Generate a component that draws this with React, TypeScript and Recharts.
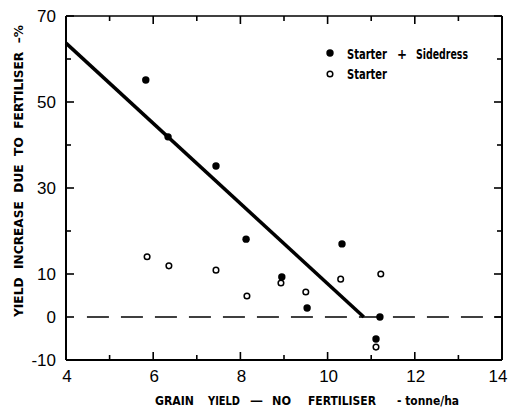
import { Legend, ReferenceLine, Scatter, ScatterChart, XAxis, YAxis } from 'recharts';

// Starter + Sidedress (filled dots)
const sidedressX = [5.83, 6.34, 7.44, 8.13, 8.95, 9.53, 10.33, 11.2, 11.11];
const sidedressY = [55.1, 41.9, 35.1, 18.1, 9.3, 2.1, 17.0, 0.0, -5.1];
// Starter only (open circles)
const starterX = [5.86, 6.36, 7.44, 8.15, 8.93, 9.5, 10.3, 11.22, 11.11];
const starterY = [14.0, 11.9, 10.9, 4.9, 7.9, 5.8, 8.8, 10.0, -7.0];

// fitted line and zero reference
const fitLine = [
  { x: 4, y: 63.7 },
  { x: 10.83, y: 0 },
];
const zeroLine = [
  { x: 4.48, y: 0 },
  { x: 14, y: 0 },
];

const xTicks = [4, 5, 6, 7, 8, 9, 10, 11, 12, 13, 14];
const xLabelled = [4, 6, 8, 10, 12, 14];
const yTicks = [-10, 0, 10, 20, 30, 40, 50, 60, 70];
const yLabelled = [-10, 0, 10, 30, 50, 70];

const xTitleWords = ['GRAIN', 'YIELD', '—', 'NO', 'FERTILISER'];
const xTitleUnit = '- tonne/ha';
const yTitle = 'YIELD  INCREASE  DUE  TO  FERTILISER  –%';

const sidedress = sidedressX.map((x, i) => ({ x, y: sidedressY[i] }));
const starter = starterX.map((x, i) => ({ x, y: starterY[i] }));

const numFont = "'Liberation Sans', Arial, sans-serif";
const labelFont = "'DejaVu Sans Condensed', 'DejaVu Sans', sans-serif";

const BottomTick = (props: any) => {
  const { x, y, payload } = props;
  const major = xLabelled.includes(payload.value);
  return (
    <g>
      <line x1={x} x2={x} y1={y} y2={y - (major ? 8 : 5)} stroke="#000" strokeWidth={1.6} />
      {major && (
        <text
          x={payload.value === 14 ? x - 4 : x + 1}
          y={y + 22}
          textAnchor="middle"
          fontFamily={numFont}
          fontSize={17}
          fill="#000"
        >
          {payload.value}
        </text>
      )}
    </g>
  );
};

const TopTick = (props: any) => {
  const { x, y, payload } = props;
  const major = xLabelled.includes(payload.value);
  return <line x1={x} x2={x} y1={y} y2={y + (major ? 8 : 5)} stroke="#000" strokeWidth={1.6} />;
};

const LeftTick = (props: any) => {
  const { x, y, payload } = props;
  const major = yLabelled.includes(payload.value);
  return (
    <g>
      <line x1={x} x2={x + (major ? 8 : 5)} y1={y} y2={y} stroke="#000" strokeWidth={1.6} />
      {major && (
        <text x={x - 10} y={y + 6} textAnchor="end" fontFamily={numFont} fontSize={17} fill="#000">
          {payload.value}
        </text>
      )}
    </g>
  );
};

const RightTick = (props: any) => {
  const { x, y, payload } = props;
  const major = yLabelled.includes(payload.value);
  return <line x1={x} x2={x - (major ? 8 : 5)} y1={y} y2={y} stroke="#000" strokeWidth={1.6} />;
};

const FilledDot = (props: any) => <circle cx={props.cx} cy={props.cy} r={3.7} fill="#000" />;
const OpenDot = (props: any) => (
  <circle cx={props.cx} cy={props.cy} r={2.8} fill="#fff" stroke="#000" strokeWidth={1.5} />
);
const NoDot = () => <g />;

const LegendBox = () => (
  <svg width={180} height={48} style={{ display: 'block', overflow: 'visible' }}>
    <g fontFamily={labelFont} fontWeight={700} fontSize={13.5} fill="#000">
      <circle cx={10} cy={13} r={3.7} fill="#000" />
      <text x={27} y={19} textLength={40} lengthAdjust="spacingAndGlyphs">Starter</text>
      <text x={77} y={19} textLength={10} lengthAdjust="spacingAndGlyphs">+</text>
      <text x={96} y={19} textLength={52} lengthAdjust="spacingAndGlyphs">Sidedress</text>
      <circle cx={10} cy={34} r={2.8} fill="#fff" stroke="#000" strokeWidth={1.5} />
      <text x={27} y={39} textLength={40} lengthAdjust="spacingAndGlyphs">Starter</text>
    </g>
  </svg>
);

// word starts / widths
const xTitleX = [155, 208, 250, 272, 308];
const xTitleW = [39, 32, 13, 19, 68];

const XTitle = (p: any) => {
  const base = p.viewBox.y + 45;
  return (
    <g fontFamily={labelFont} fontWeight={700} fontSize={13} fill="#000">
      {xTitleWords.map((w, i) => (
        <text key={w} x={xTitleX[i]} y={base} textLength={xTitleW[i]} lengthAdjust="spacingAndGlyphs">
          {w}
        </text>
      ))}
      <text x={397} y={base} textLength={62} lengthAdjust="spacingAndGlyphs" style={{ whiteSpace: 'pre' }}>
        {xTitleUnit}
      </text>
    </g>
  );
};

const YTitle = () => (
  <text
    x={23}
    y={171}
    transform="rotate(-90 23 171)"
    textAnchor="middle"
    fontFamily={labelFont}
    fontWeight={700}
    fontSize={13}
    textLength={292}
    lengthAdjust="spacingAndGlyphs"
    style={{ whiteSpace: 'pre' }}
    fill="#000"
  >
    {yTitle}
  </text>
);

export default function App() {
  return (
    <div style={{ position: 'absolute', left: 0, top: 0, width: 508, height: 408, background: '#fff' }}>
      <ScatterChart width={508} height={408} margin={{ top: 15, right: 5, bottom: 0, left: 6 }}>
        <XAxis
          xAxisId="bottom"
          dataKey="x"
          type="number"
          domain={[4, 14]}
          ticks={xTicks}
          interval={0}
          height={48}
          tickSize={0}
          tickMargin={0}
          tick={<BottomTick />}
          tickLine={false}
          axisLine={{ stroke: '#000', strokeWidth: 2 }}
          label={{ content: <XTitle /> }}
        />
        <XAxis
          xAxisId="top"
          orientation="top"
          dataKey="x"
          type="number"
          domain={[4, 14]}
          ticks={xTicks}
          interval={0}
          height={1}
          tickSize={0}
          tickMargin={0}
          tick={<TopTick />}
          tickLine={false}
          axisLine={{ stroke: '#000', strokeWidth: 1.6 }}
        />
        <YAxis
          yAxisId="left"
          dataKey="y"
          type="number"
          domain={[-10, 70]}
          ticks={yTicks}
          interval={0}
          width={60}
          tickSize={0}
          tickMargin={0}
          tick={<LeftTick />}
          tickLine={false}
          axisLine={{ stroke: '#000', strokeWidth: 2 }}
          label={{ content: <YTitle /> }}
        />
        <YAxis
          yAxisId="right"
          orientation="right"
          dataKey="y"
          type="number"
          domain={[-10, 70]}
          ticks={yTicks}
          interval={0}
          width={1}
          tickSize={0}
          tickMargin={0}
          tick={<RightTick />}
          tickLine={false}
          axisLine={{ stroke: '#000', strokeWidth: 2 }}
        />
        <ReferenceLine
          xAxisId="bottom"
          yAxisId="left"
          segment={zeroLine}
          stroke="#000"
          strokeWidth={1.3}
          strokeDasharray="22 12"
        />
        <ReferenceLine xAxisId="bottom" yAxisId="left" segment={fitLine} stroke="#000" strokeWidth={3.5} />
        <Scatter
          name="Starter + Sidedress"
          data={sidedress}
          xAxisId="bottom"
          yAxisId="left"
          shape={<FilledDot />}
          isAnimationActive={false}
        />
        <Scatter
          name="Starter"
          data={starter}
          xAxisId="bottom"
          yAxisId="left"
          shape={<OpenDot />}
          isAnimationActive={false}
        />
        {/* binds the mirrored top/right frame axes */}
        <Scatter
          name="frame"
          data={starter}
          xAxisId="top"
          yAxisId="right"
          shape={<NoDot />}
          legendType="none"
          isAnimationActive={false}
        />
        <Legend
          layout="vertical"
          align="center"
          verticalAlign="middle"
          content={<LegendBox />}
          wrapperStyle={{ top: 40, left: 320, width: 'auto' }}
        />
      </ScatterChart>
    </div>
  );
}
